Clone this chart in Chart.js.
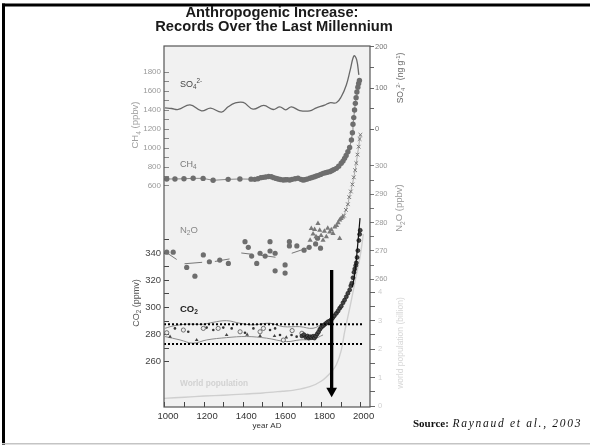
<!DOCTYPE html>
<html><head><meta charset="utf-8">
<script src="https://cdn.jsdelivr.net/npm/chart.js@4.4.1/dist/chart.umd.min.js"></script>
<style>html,body{margin:0;padding:0;background:#fff;}canvas{display:block;}</style>
</head><body>
<canvas id="c" width="590" height="445"></canvas>
<script>
const FONT = "'Liberation Sans', Arial, Helvetica, sans-serif";

// ---------- data ----------
const so4Years = [1000,1034,1068,1128,1187,1233,1289,1323,1357,1400,1450,1505,1553,1587,1617,1646,1689,1740,1774,1816,1842,1876,1901,1927,1947,1966,1980,1991];
const so4Vals  = [52,50.4,48,59.3,44.6,51.2,41.5,54.4,63.4,65,48.8,57.7,48,54.4,47.2,54.4,45.5,44.6,52,58.5,64.2,64.2,78.8,107.3,143.9,178,168,131.7];

const ch4Years = [1009,1051,1097,1144,1195,1246,1323,1383,1440,1459,1475,1490,1502,1515,1530,1544,1556,1568,1578,1590,1604,1615,1625,1638,1650,1665,1680,1695,1705,1714,1725,1740,1752,1764,1774,1785,1796,1808,1820,1830,1842,1852,1862,1876,1888,1901,1910,1918,1926,1935,1944,1953,1958,1961,1965,1969,1973,1977,1981,1986,1990,1994];
const ch4Vals  = [674,674,676,681,680,660,670,674,672,670,676,688,691,694,700,698,688,680,674,668,663,665,667,663,670,676,681,670,663,665,672,681,690,698,705,712,722,733,740,745,751,760,772,786,808,839,862,891,922,961,1005,1084,1160,1250,1320,1400,1470,1530,1590,1640,1680,1710];

const n2oIceYears = [1009,1042,1111,1153,1196,1227,1280,1324,1409,1426,1443,1469,1486,1512,1537,1537,1563,1563,1614,1614,1636,1636,1674,1711,1737,1770,1780,1795];
const n2oIceVals  = [269.6,269.6,264.2,261.1,268.6,266.2,266.8,265.6,273.3,271.3,268.2,265.6,269.2,268.2,273.3,270,269.2,263,265.1,262.2,273.3,271.8,271.8,270.3,271.3,272.5,274.5,271];
const n2oFirnYears = [1742,1748,1757,1765,1772,1782,1791,1798,1808,1815,1825,1832,1842,1850,1859,1868,1877,1885,1893,1893,1900,1908];
const n2oFirnVals  = [273.8,277.9,276,277.6,275,279.7,277.3,275.5,273.8,277,275,278,276.7,277.5,276.2,278.5,279,280,280.9,274.4,281.5,282];
const n2oAtmYears = [1915,1925,1935,1942,1950,1958,1965,1972,1978,1984,1990,1995,1999];
const n2oAtmVals  = [282.5,284.5,286.5,289,291,293.5,296,298.5,301,304,306.8,309.5,311];
const n2oSegYears = [1000,1060, 1100,1190, 1255,1330, 1390,1450, 1490,1565, 1648,1725];
const n2oSegVals  = [269.8,267, 265.5,266, 266.3,267.2, 269.3,268.8, 268.5,267.8, 269.2,271];

const co2UpYears = [1000,1042,1111,1195,1246,1315,1383,1450,1536,1604,1689,1757,1808];
const co2UpVals  = [284.7,286.4,287.7,287.7,289.1,290.3,288.4,287.2,288.4,285.9,285.9,284.7,288.4];
const co2LoYears = [1000,1077,1144,1213,1315,1417,1519,1621,1689,1757,1808];
const co2LoVals  = [278.6,276.1,273.7,276.1,277.8,278.6,277.4,274.9,276.1,276.6,279.8];
const co2OpenYears = [1009,1094,1196,1272,1384,1486,1503,1605,1650,1700];
const co2OpenVals  = [281.4,283.4,284.6,284.6,282.1,282.1,284.6,276,283,281];
const co2DotYears = [1051,1119,1213,1247,1298,1341,1409,1452,1537,1563,1588,1647,1673];
const co2DotVals  = [284.6,282.1,285.2,283.4,285.2,284.6,281.4,284.6,283.4,284.6,279.7,279.7,278.5];
const co2TriYears = [1026,1162,1315,1420,1486,1560,1620];
const co2TriVals  = [278.5,276,279.7,280,279.1,279,278];
const co2RiseYears = [1700,1710,1720,1728,1735,1742,1750,1757,1764,1771,1778,1785,1792,1800,1808,1816,1825,1833,1842,1850,1858,1866,1876,1885,1893,1901,1910,1918,1927,1935,1944,1950,1955,1961,1966,1970,1975,1978,1982,1986,1991,1995,1998];
const co2RiseVals  = [279,280,278,279,277.5,278.5,277.8,278.8,277.5,279,280.5,282,284,285.5,286.5,287.5,288.5,289.5,290,291,292.5,294,295.7,297.5,299.5,301,303.5,305.5,308,310.5,313,316,318,322,326,328.5,331,333,337,342,349.5,354,357];
const maunaYears = [1958,1968,1978,1988,1997];
const maunaVals  = [315,323,335,351,366];

const popYears = [995,1100,1200,1300,1400,1500,1600,1660,1740,1800,1850,1876,1901,1918,1946,1972,1997,2014];
const popVals  = [0.27,0.31,0.35,0.38,0.42,0.46,0.52,0.56,0.68,0.88,1.2,1.45,1.96,2.6,3.5,4.4,5.25,6.05];

const refYears  = [995, 2008];          // dotted reference lines (CO2)
const refLevels = [287.6, 273.1];
const arrowYear = 1852;                 // arrow (population axis units)
const arrowFrom = 4.79, arrowTo = 0.53;

// ---------- ticks ----------
const yearTicks  = [1000,1100,1200,1300,1400,1500,1600,1700,1800,1900,2000];
const yearLabels = [1000,1200,1400,1600,1800,2000];
const ch4Ticks  = [600,700,800,900,1000,1100,1200,1300,1400,1500,1600,1700,1800];
const ch4Labels = [600,800,1000,1200,1400,1600,1800];
const co2Ticks  = [260,270,280,290,300,310,320,330,340,350];
const co2Labels = [260,280,300,320,340];
const so4Ticks  = [0,50,100,150,200];
const so4Labels = [0,100,200];
const n2oTicks  = [260,265,270,275,280,285,290,295,300];
const n2oLabels = [260,270,280,290,300];
const popTicks  = [0,0.5,1,1.5,2,2.5,3,3.5,4];
const popLabels = [0,1,2,3,4];

// ---------- helpers ----------
const pts = (xs, ys) => xs.map((x, i) => ({x, y: ys[i]}));
function segPts(xs, ys) {
  const out = [];
  for (let i = 0; i < xs.length; i += 2) {
    out.push({x: xs[i], y: ys[i]}, {x: xs[i+1], y: ys[i+1]});
    if (i + 2 < xs.length) out.push({x: (xs[i+1] + xs[i+2]) / 2, y: null});
  }
  return out;
}
function yAxis(o) {
  return {
    type: 'linear', position: o.pos, stack: o.pos, stackWeight: o.sw, weight: o.w,
    min: o.min, max: o.max,
    afterFit: s => { s.width = o.width; },
    afterBuildTicks: s => { s.ticks = o.ticks.map(v => ({value: v})); },
    ticks: { autoSkip: false, padding: o.pad, color: o.lc, font: {family: FONT, size: o.fs},
             callback: v => o.labels.includes(v) ? String(v) : '' },
    grid: { display: true, drawOnChartArea: false, drawTicks: true, tickLength: o.tl, tickColor: o.tc, tickWidth: 1 },
    border: { display: false }
  };
}
const base = { clip: false, parsing: true };

const datasets = [
  // arrow
  Object.assign({}, base, { yAxisID: 'yPop', data: [{x: arrowYear, y: arrowFrom}, {x: arrowYear, y: arrowTo}],
    showLine: true, borderColor: '#000', borderWidth: 3.3, pointRadius: [0, 6.2], pointStyle: 'triangle',
    pointRotation: 180, pointBackgroundColor: '#000', pointBorderColor: '#000', pointBorderWidth: 0 }),
  // dotted reference lines
  Object.assign({}, base, { yAxisID: 'yCO2', data: pts(refYears, [refLevels[0], refLevels[0]]), showLine: true,
    borderColor: '#000', borderWidth: 2, borderDash: [2, 2], pointRadius: 0 }),
  Object.assign({}, base, { yAxisID: 'yCO2', data: pts(refYears, [refLevels[1], refLevels[1]]), showLine: true,
    borderColor: '#000', borderWidth: 2, borderDash: [2, 2], pointRadius: 0 }),
  // CO2
  Object.assign({}, base, { yAxisID: 'yCO2', data: pts(maunaYears, maunaVals), showLine: true,
    borderColor: '#111', borderWidth: 1.2, pointRadius: 0, tension: 0.3 }),
  Object.assign({}, base, { yAxisID: 'yCO2', data: pts(co2RiseYears, co2RiseVals), showLine: false,
    pointRadius: 2.0, pointBackgroundColor: '#444', pointBorderColor: '#111', pointBorderWidth: 0.6 }),
  Object.assign({}, base, { yAxisID: 'yCO2', data: pts(co2OpenYears, co2OpenVals), showLine: false,
    pointRadius: 2.1, pointBackgroundColor: '#ececec', pointBorderColor: '#555', pointBorderWidth: 0.8 }),
  Object.assign({}, base, { yAxisID: 'yCO2', data: pts(co2DotYears, co2DotVals), showLine: false,
    pointRadius: 1.3, pointBackgroundColor: '#333', pointBorderWidth: 0 }),
  Object.assign({}, base, { yAxisID: 'yCO2', data: pts(co2TriYears, co2TriVals), showLine: false,
    pointRadius: 2.1, pointStyle: 'triangle', pointBackgroundColor: '#444', pointBorderWidth: 0 }),
  Object.assign({}, base, { yAxisID: 'yCO2', data: pts(co2UpYears, co2UpVals), showLine: true,
    borderColor: '#8c8c8c', borderWidth: 1, pointRadius: 0, tension: 0.4 }),
  Object.assign({}, base, { yAxisID: 'yCO2', data: pts(co2LoYears, co2LoVals), showLine: true,
    borderColor: '#8c8c8c', borderWidth: 1, pointRadius: 0, tension: 0.4 }),
  // N2O
  Object.assign({}, base, { yAxisID: 'yN2O', data: pts(n2oAtmYears, n2oAtmVals), showLine: true,
    borderColor: '#999', borderWidth: 0.8, pointRadius: 2.6, pointStyle: 'crossRot', pointBorderColor: '#777', pointBorderWidth: 1 }),
  Object.assign({}, base, { yAxisID: 'yN2O', data: pts(n2oFirnYears, n2oFirnVals), showLine: false,
    pointRadius: 3, pointStyle: 'triangle', pointBackgroundColor: '#7a7a7a', pointBorderWidth: 0 }),
  Object.assign({}, base, { yAxisID: 'yN2O', data: pts(n2oIceYears, n2oIceVals), showLine: false,
    pointRadius: 2.6, pointBackgroundColor: '#6e6e6e', pointBorderWidth: 0 }),
  Object.assign({}, base, { yAxisID: 'yN2O', data: segPts(n2oSegYears, n2oSegVals), showLine: true, spanGaps: false,
    borderColor: '#777', borderWidth: 1, pointRadius: 0 }),
  // CH4
  Object.assign({}, base, { yAxisID: 'yCH4', data: pts(ch4Years, ch4Vals), showLine: true,
    borderColor: '#888', borderWidth: 1, pointRadius: 2.7, pointBackgroundColor: '#6e6e6e', pointBorderWidth: 0 }),
  // SO4
  Object.assign({}, base, { yAxisID: 'ySO4', data: pts(so4Years, so4Vals), showLine: true,
    borderColor: '#686868', borderWidth: 1.3, pointRadius: 0, tension: 0.4 }),
  // population
  Object.assign({}, base, { yAxisID: 'yPop', data: pts(popYears, popVals), showLine: true,
    borderColor: '#cfcfcf', borderWidth: 1.4, pointRadius: 0, tension: 0.35 })
];

// ---------- text / frame plugin ----------
function rich(ctx, parts, x, y, size, color, weight, align) {
  ctx.fillStyle = color; ctx.textBaseline = 'alphabetic'; ctx.textAlign = 'left';
  const f = m => `${weight} ${m ? size * 0.7 : size}px ${FONT}`;
  let w = 0;
  parts.forEach(([t, m]) => { ctx.font = f(m); w += ctx.measureText(t).width; });
  let cx = align === 'center' ? x - w / 2 : x;
  parts.forEach(([t, m]) => {
    ctx.font = f(m);
    const dy = m === 1 ? size * 0.25 : m === 2 ? -size * 0.4 : 0;
    ctx.fillText(t, cx, y + dy);
    cx += ctx.measureText(t).width;
  });
}
function vrich(ctx, parts, cx, cy, size, color, weight) {
  ctx.save(); ctx.translate(cx, cy); ctx.rotate(-Math.PI / 2);
  rich(ctx, parts, 0, size * 0.35, size, color, weight, 'center');
  ctx.restore();
}
const decor = {
  id: 'decor',
  beforeDraw(chart) {
    const {ctx, chartArea: a} = chart;
    ctx.save();
    ctx.fillStyle = '#fff'; ctx.fillRect(0, 0, chart.width, chart.height);
    ctx.fillStyle = '#f1f1f1'; ctx.fillRect(a.left, a.top, a.right - a.left, a.bottom - a.top);
    ctx.restore();
  },
  afterDraw(chart) {
    const {ctx, chartArea: a} = chart;
    ctx.save();
    ctx.strokeStyle = '#555'; ctx.lineWidth = 1.2;
    ctx.strokeRect(a.left, a.top, a.right - a.left, a.bottom - a.top);
    // slide border
    ctx.fillStyle = '#000';
    ctx.fillRect(2, 3.5, 588, 3);
    ctx.fillRect(2, 3.5, 3, 442);
    ctx.fillStyle = '#c4c4c4';
    ctx.fillRect(2, 443, 588, 1.5);
    // title
    ctx.fillStyle = '#1a1a1a'; ctx.textAlign = 'center'; ctx.textBaseline = 'alphabetic';
    ctx.font = `bold 14.7px ${FONT}`;
    ctx.fillText('Anthropogenic Increase:', 272, 16.5);
    ctx.fillText('Records Over the Last Millennium', 274, 30.5);
    // axis titles
    vrich(ctx, [['CH', 0], ['4', 1], [' (ppbv)', 0]], 135, 125, 9.5, '#a0a0a0', 'normal');
    vrich(ctx, [['CO', 0], ['2', 1], [' (ppmv)', 0]], 136, 303, 9, '#555', 'normal');
    vrich(ctx, [['SO', 0], ['4', 1], ['2-', 2], [' (ng g', 0], ['-1', 2], [')', 0]], 400, 78, 8.5, '#666', 'normal');
    vrich(ctx, [['N', 0], ['2', 1], ['O (ppbv)', 0]], 399, 208, 9.5, '#9a9a9a', 'normal');
    vrich(ctx, [['world population (billion)', 0]], 400, 343, 8.5, '#d6d6d6', 'normal');
    // series labels
    rich(ctx, [['SO', 0], ['4', 1], ['2-', 2]], 180, 86.5, 9, '#444', 'normal', 'left');
    rich(ctx, [['CH', 0], ['4', 1]], 180, 167, 9, '#777', 'normal', 'left');
    rich(ctx, [['N', 0], ['2', 1], ['O', 0]], 180, 233, 9.5, '#888', 'normal', 'left');
    rich(ctx, [['CO', 0], ['2', 1]], 180, 312, 9.5, '#222', 'bold', 'left');
    rich(ctx, [['World population', 0]], 180, 386, 8.3, '#d2d2d2', 'bold', 'left');
    // source
    ctx.textAlign = 'left'; ctx.fillStyle = '#111';
    ctx.font = "bold 11px 'Liberation Serif', 'Times New Roman', serif";
    ctx.fillText('Source:', 413, 427);
    const sw = ctx.measureText('Source: ').width;
    ctx.font = "italic 11.5px 'Liberation Serif', 'Times New Roman', serif";
    if ('letterSpacing' in ctx) ctx.letterSpacing = '1.7px';
    ctx.fillText('Raynaud et al., 2003', 413 + sw + 1, 427);
    if ('letterSpacing' in ctx) ctx.letterSpacing = '0px';
    ctx.restore();
  }
};

new Chart(document.getElementById('c'), {
  type: 'scatter',
  data: { datasets },
  options: {
    responsive: false, animation: false, events: [], devicePixelRatio: 1,
    layout: { padding: { top: 46, left: 0, right: 0, bottom: 0 } },
    plugins: { legend: { display: false }, tooltip: { enabled: false }, title: { display: false } },
    scales: {
      x: {
        type: 'linear', position: 'bottom', min: 995, max: 2048,
        afterFit: s => { s.height = 38; },
        afterBuildTicks: s => { s.ticks = yearTicks.map(v => ({value: v})); },
        ticks: { autoSkip: false, maxRotation: 0, padding: 9, labelOffset: 3, color: '#333',
                 font: {family: FONT, size: 9.5}, callback: v => yearLabels.includes(v) ? String(v) : '' },
        grid: { display: true, drawOnChartArea: false, tickLength: -5, tickColor: '#444' },
        border: { display: false },
        title: { display: true, text: 'year AD', color: '#333', font: {family: FONT, size: 8}, padding: {top: 0, bottom: 14} }
      },
      yCH4: yAxis({pos: 'left', sw: 174, w: 2, min: 242.1, max: 2073.7, width: 164, ticks: ch4Ticks, labels: ch4Labels,
                   pad: 8, tl: -5, lc: '#999', tc: '#888', fs: 8}),
      yCO2: yAxis({pos: 'left', sw: 187, w: 1, min: 226.6, max: 364.6, width: 164, ticks: co2Ticks, labels: co2Labels,
                   pad: 8, tl: -5, lc: '#444', tc: '#444', fs: 9.5}),
      ySO4: yAxis({pos: 'right', sw: 99, w: 1, min: -38.0, max: 201.7, width: 220, ticks: so4Ticks, labels: so4Labels,
                   pad: 1, tl: 4, lc: '#777', tc: '#666', fs: 7.5}),
      yN2O: yAxis({pos: 'right', sw: 140, w: 2, min: 258.0, max: 307.4, width: 220, ticks: n2oTicks, labels: n2oLabels,
                   pad: 1, tl: 4, lc: '#9a9a9a', tc: '#777', fs: 7.5}),
      yPop: yAxis({pos: 'right', sw: 122, w: 3, min: -0.035, max: 4.26, width: 220, ticks: popTicks, labels: popLabels,
                   pad: 3, tl: 5, lc: '#cfcfcf', tc: '#666', fs: 7.5})
    }
  },
  plugins: [decor]
});
</script>
</body></html>
